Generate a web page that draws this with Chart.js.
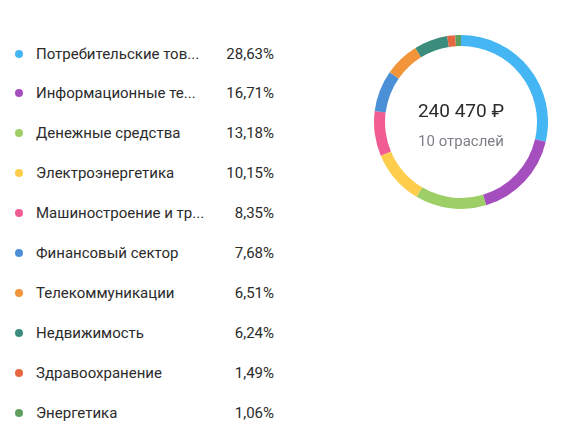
<!DOCTYPE html>
<html>
<head>
<meta charset="utf-8">
<script src="https://cdn.jsdelivr.net/npm/chart.js@4.4.0/dist/chart.umd.min.js"></script>
<style>
  html, body { margin: 0; padding: 0; background: #fff; }
  body { width: 570px; height: 433px; position: relative; overflow: hidden;
         font-family: Roboto, "Noto Sans", sans-serif; color: #2b2b2b; }
  #legend { position: absolute; left: 0; top: 33.5px; width: 290px; }
  .row { position: relative; height: 39.9px; font-size: 15px; }
  .dot { position: absolute; left: 15px; top: 16px; width: 8px; height: 8px; border-radius: 50%; }
  .name { position: absolute; left: 36px; top: 10px; line-height: 20px; white-space: nowrap; }
  .pct { position: absolute; right: 16px; top: 10px; line-height: 20px; }
  #wrap { position: absolute; left: 374px; top: 35px; width: 174px; height: 174px; }
  #center { position: absolute; left: 374px; top: 35px; width: 174px; height: 174px; text-align: center; pointer-events: none; }
  #total { position: absolute; left: 0; width: 100%; top: 64px; font-size: 19px; line-height: 24px; color: #2b2b2b; }
  #count { position: absolute; left: 0; width: 100%; top: 96px; font-size: 15px; line-height: 20px; color: #7c7f86; }
</style>
</head>
<body>
<div id="legend"></div>
<div id="wrap"><canvas id="myChart"></canvas></div>
<div id="center"><div id="total"></div><div id="count"></div></div>
<script>
// sectors, shares (%) and colours
var labels = ["Потребительские тов...", "Информационные те...", "Денежные средства", "Электроэнергетика",
    "Машиностроение и тр...", "Финансовый сектор", "Телекоммуникации", "Недвижимость",
    "Здравоохранение", "Энергетика"];
var values = [28.63, 16.71, 13.18, 10.15, 8.35, 7.68, 6.51, 6.24, 1.49, 1.06];
var colors = ["#45b6f4", "#a44fbd", "#9dcf66", "#fdcd4b", "#f15c93",
    "#4b8fd6", "#f29439", "#3b8c7d", "#e66740", "#5e9f60"];
var totalText = "240 470 ₽";
var countText = "10 отраслей";

function buildLegend() {
    var legend = document.getElementById("legend");
    for (var i = 0; i < labels.length; i++) {
        var pct = values[i].toFixed(2).replace(".", ",") + "%";
        legend.innerHTML += `<div class="row"><span class="dot" style="background:${colors[i]}"></span>` +
            `<span class="name">${labels[i]}</span><span class="pct">${pct}</span></div>`;
    }
    document.getElementById("total").innerText = totalText;
    document.getElementById("count").innerText = countText;
}
buildLegend();

function displayGraph() {
    var grapharea = document.getElementById("myChart");
    const data = {
        labels: labels,
        datasets: [{
            data: values,
            backgroundColor: colors,
            borderWidth: 0
        }]
    };
    const config = {
        type: "doughnut",
        data: data,
        options: {
            responsive: true,
            maintainAspectRatio: false,
            animation: false,
            cutout: 76,
            layout: { padding: 0 },
            plugins: { legend: { display: false }, tooltip: { enabled: false } }
        }
    };
    const myChart = new Chart(grapharea, config);
}
displayGraph();
</script>
</body>
</html>
